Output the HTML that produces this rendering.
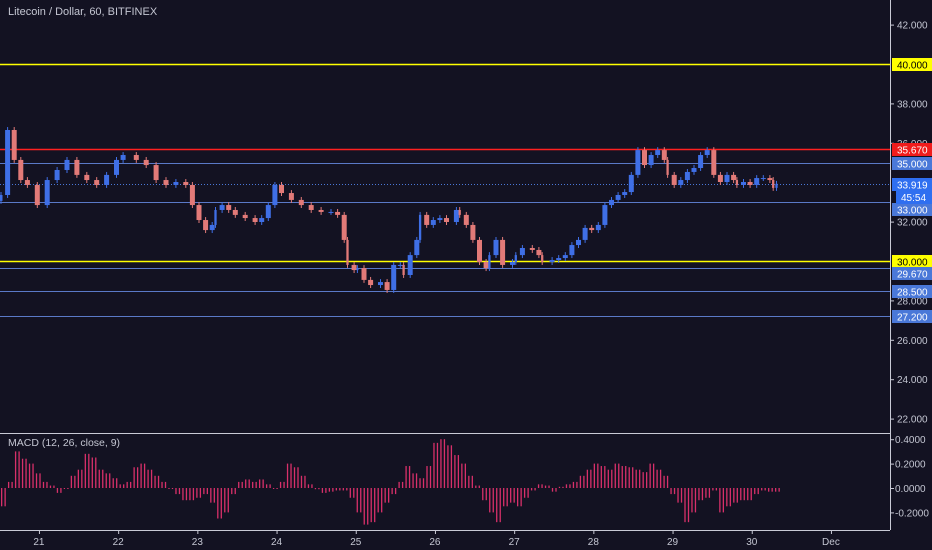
<!DOCTYPE html>
<html><head><meta charset="utf-8"><style>
html,body{margin:0;padding:0;background:#131222;}
svg{display:block;font-family:"Liberation Sans",sans-serif;}
</style></head><body>
<svg width="932" height="550" viewBox="0 0 932 550">
<rect x="0" y="0" width="932" height="550" fill="#131222"/>
<g id="levels"></g>
<g id="candles"></g>
<g id="macd"></g>
<g id="axes">
<line x1="890.5" y1="0" x2="890.5" y2="530" stroke="#c9cad6" stroke-width="1"/>
<line x1="0" y1="433.5" x2="890" y2="433.5" stroke="#c9cad6" stroke-width="1"/>
<line x1="0" y1="530.5" x2="890" y2="530.5" stroke="#c9cad6" stroke-width="1"/>
</g>
<g id="labels"></g>
<text x="8" y="15" font-size="11" fill="#c4c6d2">Litecoin / Dollar, 60, BITFINEX</text>
<text x="8" y="446" font-size="10.5" fill="#c4c6d2">MACD (12, 26, close, 9)</text>
</svg>
<script>
const hours=[0,2,4,6,8,11,14,17,20,23,26,29,32,35,37,41,44,47,50,53,56,58,60,62,64,65,67,69,71,74,77,79,81,83,85,88,91,94,97,100,102,104,105,107,108,110,112,115,117,119,121,122,124,126,127,129,131,133,135,138,139,141,143,145,147,148,150,152,155,156,158,161,163,164,167,169,171,173,175,177,179,181,183,185,187,189,191,193,195,197,199,201,202,204,206,208,210,212,214,216,218,220,222,223,225,227,229,231,233,234,235];
const closes=[33.35,36.65,35.13,34.11,33.86,32.84,34.11,34.62,35.13,34.37,34.11,33.86,34.37,35.13,35.38,35.13,34.87,34.11,33.86,34.01,33.86,32.84,32.08,31.57,31.83,32.59,32.84,32.59,32.34,32.18,31.98,32.18,32.84,33.86,33.45,33.10,32.84,32.59,32.49,32.49,32.34,31.07,29.80,29.54,29.64,29.04,28.78,28.93,28.53,29.80,29.80,29.29,30.30,31.07,32.34,31.83,32.08,32.18,31.98,32.59,32.34,31.83,31.07,29.95,29.64,30.30,31.07,29.80,29.95,30.30,30.66,30.56,30.30,29.95,30.05,30.15,30.30,30.81,31.07,31.68,31.57,31.83,32.84,33.10,33.35,33.50,34.37,35.63,34.87,35.38,35.63,35.13,34.37,33.86,34.11,34.52,34.72,35.38,35.63,34.37,34.01,34.37,34.11,33.86,34.01,33.86,34.21,34.21,34.11,33.71,33.919];
const macdVals=[-0.15,0.05,0.30,0.24,0.2,0.12,0.05,0.02,-0.04,0,0.1,0.15,0.28,0.25,0.15,0.12,0.08,0.03,0.05,0.17,0.2,0.15,0.1,0.05,0,-0.05,-0.1,-0.1,-0.08,-0.05,-0.12,-0.25,-0.2,-0.05,0.05,0.07,0.05,0.07,0.03,0,0.05,0.2,0.17,0.1,0.03,-0.01,-0.04,-0.03,-0.02,-0.02,-0.08,-0.2,-0.3,-0.28,-0.2,-0.12,-0.05,0.05,0.18,0.12,0.08,0.18,0.37,0.4,0.35,0.27,0.2,0.1,0.02,-0.1,-0.2,-0.28,-0.15,-0.12,-0.15,-0.08,-0.02,0.03,0.02,-0.03,0.01,0.03,0.05,0.1,0.15,0.2,0.18,0.15,0.2,0.18,0.17,0.15,0.13,0.2,0.15,0.1,-0.05,-0.12,-0.28,-0.2,-0.1,-0.08,-0.02,-0.2,-0.15,-0.12,-0.1,-0.1,-0.05,-0.02,-0.03,-0.03];
const priceTicks=[42,38,36,32,28,26,24,22];
const macdTicks=[0.4,0.2,0,-0.2];
const dayLabels=["21","22","23","24","25","26","27","28","29","30","Dec"];
const dayHours=[11.5,35.5,59.5,83.5,107.5,131.5,155.5,179.5,203.5,227.5,251.5];
const levelValues=[40,35.67,35,33,30,29.67,28.5,27.2];
const levelKinds=["yellow","red","blue","blue","yellow","blue","blue","blue"];
const lastPrice=33.919;

const NS="http://www.w3.org/2000/svg";
const xS=h=>1+h*3.3;
const yS=v=>261-(v-30)*19.7;
const mS=v=>488-v*122;
function mk(tag,attrs,parent){const e=document.createElementNS(NS,tag);for(const k in attrs)e.setAttribute(k,attrs[k]);parent.appendChild(e);return e;}
const colors={yellow:["#ffff00","#ffff00","#000"],red:["#ff2020","#f01c1c","#fff"],blue:["#5a79c8","#4a78d8","#fff"]};

const lv=document.getElementById('levels'), lb=document.getElementById('labels');
priceTicks.forEach(v=>{
  const t=mk('text',{x:897,y:yS(v)+4,'font-size':10,fill:'#c4c6d2'},lb);t.textContent=v.toFixed(3);
  
  
  mk('line',{x1:890,x2:894,y1:yS(v)+.5,y2:yS(v)+.5,stroke:'#c9cad6'},lb);
});
macdTicks.forEach(v=>{
  const t=mk('text',{x:895,y:mS(v)+4,'font-size':10,fill:'#c4c6d2'},lb);t.textContent=(v<0?'-':'')+Math.abs(v).toFixed(4);
  
  
  mk('line',{x1:890,x2:894,y1:mS(v)+.5,y2:mS(v)+.5,stroke:'#c9cad6'},lb);
});
dayLabels.forEach((d,i)=>{
  const t=mk('text',{x:xS(dayHours[i]),y:545,'font-size':10,fill:'#c4c6d2','text-anchor':'middle'},lb);t.textContent=d;
  
  
  mk('line',{x1:xS(dayHours[i])+.5,x2:xS(dayHours[i])+.5,y1:530,y2:534,stroke:'#c9cad6'},lb);
});
// last price tag drawn first so level tags can sit around it
const ly=Math.round(yS(lastPrice))+.5;
mk('line',{x1:0,x2:890,y1:ly,y2:ly,stroke:'#4a78d8','stroke-dasharray':'1,2'},lv);
// levels (tags nudged to avoid overlap, like the reference axis)
const tagShift=[0,0,0,7,0,5,0,0];
levelValues.forEach((v,i)=>{
  const c=colors[levelKinds[i]];const y=Math.round(yS(v))+.5;
  const l=mk('line',{x1:0,x2:890,y1:y,y2:y,stroke:c[0],'stroke-width':levelKinds[i]==='blue'?1:1.5},lv);
  
  
  const ty=y+tagShift[i];
  mk('rect',{x:892,y:ty-6.5,width:40,height:13,fill:c[1]},lb);
  const t=mk('text',{x:897,y:ty+4,'font-size':10,fill:c[2]},lb);t.textContent=v.toFixed(3);
  
  
});
mk('rect',{x:892,y:ly-6.5,width:40,height:13,fill:'#2f6ff0'},lb);
const lt=mk('text',{x:897,y:ly+4,'font-size':10,fill:'#fff'},lb);lt.textContent=lastPrice.toFixed(3);


mk('rect',{x:896,y:ly+6.5,width:36,height:13,fill:'#2f6ff0'},lb);
const ct=mk('text',{x:901,y:ly+16.5,'font-size':10,fill:'#fff'},lb);ct.textContent='45:54';


// candles
const cg=document.getElementById('candles');
const n=Math.min(hours.length,closes.length);
for(let i=0;i<n;i++){
  const o=i>0?closes[i-1]:closes[i]-0.3, c=closes[i];
  const up=c>=o, col=up?'#3f6fe6':'#e27a78';
  const x=xS(hours[i]);
  const gap=i>0?(hours[i]-hours[i-1])*3.3:4;
  const w=Math.max(2,Math.min(5,gap-1));
  const hi=Math.max(o,c)+0.15, lo=Math.min(o,c)-0.15;
  const g=mk('g',{},cg);
  
  
  mk('line',{x1:x,x2:x,y1:yS(hi),y2:yS(lo),stroke:col,'stroke-width':1},g);
  const top=yS(Math.max(o,c)), bot=yS(Math.min(o,c));
  mk('rect',{x:x-w/2,y:top,width:w,height:Math.max(1,bot-top),fill:col},g);
}
// macd
const mg=document.getElementById('macd');
const m=macdVals.length, step=774/(m-1);
for(let i=0;i<m;i++){
  const v=macdVals[i];
  for(let k=0;k<2;k++){
    const x=1+i*step+k*step/2;
    const b=mk('rect',{x:x,y:Math.min(mS(v),mS(0)),width:1.3,height:Math.max(1,Math.abs(mS(v)-mS(0))),fill:'#d8306a'},mg);
    
    
  }
}
</script>
</body></html>
